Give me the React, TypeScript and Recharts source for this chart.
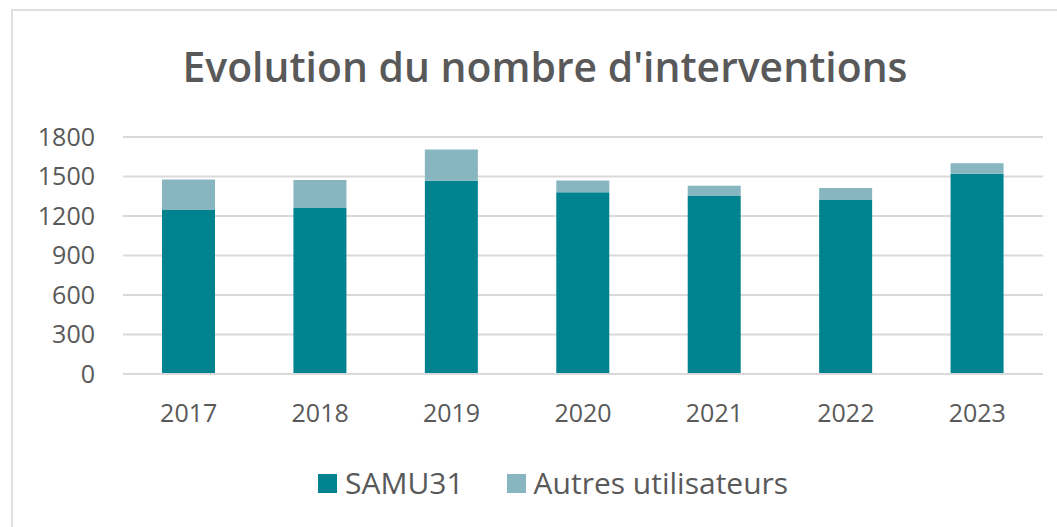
import React from 'react';
import { BarChart, Bar, XAxis, YAxis, CartesianGrid } from 'recharts';

const years = ['2017', '2018', '2019', '2020', '2021', '2022', '2023'];
const samu31 = [1245, 1260, 1468, 1380, 1352, 1321, 1521];
const autres = [233, 213, 238, 90, 78, 91, 79];
const yTicks = [0, 300, 600, 900, 1200, 1500, 1800];

const SAMU_COLOR = '#00838F';
const AUTRES_COLOR = '#87B6C1';
const TEXT_COLOR = '#595959';
const FONT = '"Open Sans", sans-serif';

const data = years.map((year, i) => ({ year, samu31: samu31[i], autres: autres[i] }));

const App: React.FC = () => {
    return (
        <div style={{ position: 'absolute', left: 0, top: 0, width: 1057, height: 527, background: '#fff', overflow: 'hidden', fontFamily: FONT }}>
            {/* chart frame */}
            <div style={{ position: 'absolute', left: 11, top: 9, width: 1100, height: 600, border: '2px solid #e0e0e0' }} />

            <svg width={1057} height={110} style={{ position: 'absolute', left: 0, top: 0 }}>
                <text
                    x={545}
                    y={82}
                    textAnchor="middle"
                    fill={TEXT_COLOR}
                    fontSize={42}
                    fontWeight={600}
                    fontFamily={FONT}
                    textLength={725}
                    lengthAdjust="spacingAndGlyphs"
                >
                    Evolution du nombre d'interventions
                </text>
            </svg>

            <div style={{ position: 'absolute', left: 0, top: 0 }}>
                <BarChart width={1057} height={527} data={data} margin={{ top: 137, right: 14, left: 0, bottom: 93 }} barCategoryGap={0}>
                    <CartesianGrid stroke="#d9d9d9" strokeWidth={2} vertical={false} />
                    <XAxis
                        dataKey="year"
                        height={60}
                        tickLine={false}
                        axisLine={{ stroke: '#d9d9d9', strokeWidth: 2 }}
                        tick={{ fill: TEXT_COLOR, fontSize: 25, fontFamily: FONT }}
                        tickMargin={24}
                    />
                    <YAxis
                        width={123}
                        domain={[0, 1800]}
                        ticks={yTicks}
                        interval={0}
                        tickLine={false}
                        axisLine={false}
                        tick={{ fill: TEXT_COLOR, fontSize: 25, fontFamily: FONT }}
                        tickMargin={22}
                    />
                    <Bar dataKey="samu31" stackId="a" fill={SAMU_COLOR} barSize={53} isAnimationActive={false} />
                    <Bar dataKey="autres" stackId="a" fill={AUTRES_COLOR} barSize={53} isAnimationActive={false} />
                </BarChart>
            </div>

            {/* legend */}
            <div style={{ position: 'absolute', left: 318, top: 464, display: 'flex', alignItems: 'center', fontSize: 30, color: TEXT_COLOR, lineHeight: '38px' }}>
                <span style={{ width: 19, height: 19, background: SAMU_COLOR, display: 'inline-block', marginRight: 8 }} />
                <span style={{ marginRight: 43 }}>SAMU31</span>
                <span style={{ width: 19, height: 19, background: AUTRES_COLOR, display: 'inline-block', marginRight: 8 }} />
                <span>Autres utilisateurs</span>
            </div>
        </div>
    );
};

export default App;
